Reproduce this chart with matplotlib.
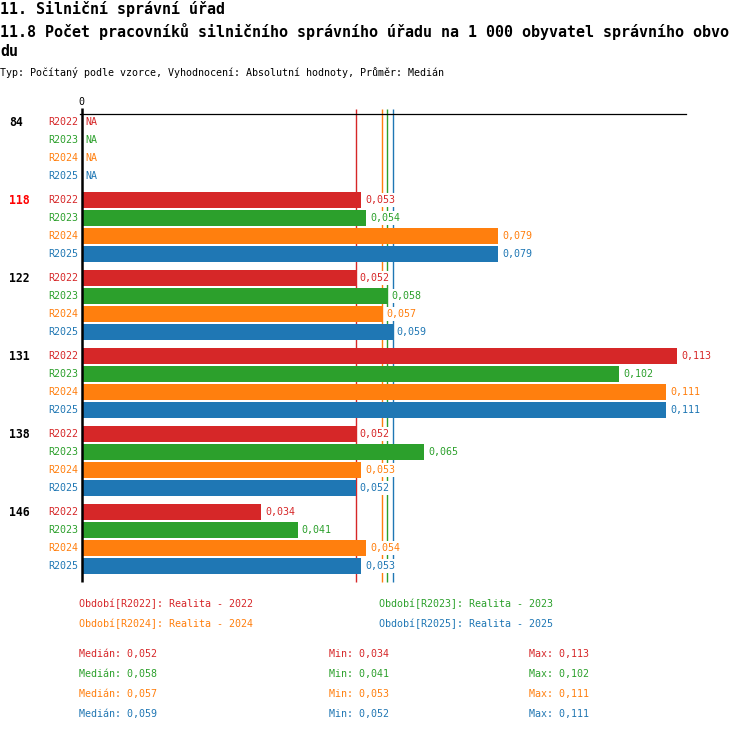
import numpy as np
import matplotlib
matplotlib.use('Agg')
import matplotlib.pyplot as plt

plt.rcParams['font.family'] = ['DejaVu Sans Mono']

groups = ['84', '118', '122', '131', '138', '146']
group_colors = ['black', '#ff0000', 'black', 'black', 'black', 'black']
series = ['R2022', 'R2023', 'R2024', 'R2025']
series_names = ['Realita - 2022', 'Realita - 2023', 'Realita - 2024', 'Realita - 2025']
colors = ['#d62728', '#2ca02c', '#ff7f0e', '#1f77b4']

r2022 = [np.nan, 0.053, 0.052, 0.113, 0.052, 0.034]
r2023 = [np.nan, 0.054, 0.058, 0.102, 0.065, 0.041]
r2024 = [np.nan, 0.079, 0.057, 0.111, 0.053, 0.054]
r2025 = [np.nan, 0.079, 0.059, 0.111, 0.052, 0.053]
values = [r2022, r2023, r2024, r2025]

W, H = 750, 732


def fmt(v):
    return ('%.3f' % v).replace('.', ',')


def px(x, y):
    return x / W, 1 - y / H


fig = plt.figure(figsize=(W / 100, H / 100), dpi=100)

# plot area in pixels
x0, x1, ytop, ybot = 82, 686, 114, 582
scale = 5265.0
ax = fig.add_axes([x0 / W, 1 - ybot / H, (x1 - x0) / W, (ybot - ytop) / H])
ax.set_xlim(0, (x1 - x0) / scale)
ax.set_ylim(ybot, ytop)
ax.axis('off')

# row positions (pixels)
row_y = lambda g, r: 122 + 78 * g + 18 * r
label_box = dict(facecolor='white', edgecolor='none', pad=1.2)

for s in range(4):
    ys = [row_y(g, s) for g in range(len(groups))]
    vals = np.array(values[s], dtype=float)
    ok = ~np.isnan(vals)
    ax.barh(np.array(ys)[ok], vals[ok], height=16, color=colors[s], linewidth=0, zorder=3)
    for g, v in enumerate(vals):
        if np.isnan(v):
            ax.annotate('NA', (0, ys[g]), xytext=(3, 0), textcoords='offset pixels',
                        ha='left', va='center', fontsize=7.2, color=colors[s], zorder=4)
        else:
            ax.annotate(fmt(v), (v, ys[g]), xytext=(4, 0), textcoords='offset pixels',
                        ha='left', va='center', fontsize=7.2, color=colors[s], zorder=4,
                        bbox=label_box)
        fig.text(*px(78, ys[g]), series[s], ha='right', va='center',
                 fontsize=7.2, color=colors[s])

for g, name in enumerate(groups):
    fig.text(*px(9, row_y(g, 0)), name, ha='left', va='center', fontsize=8.3,
             fontweight='bold', color=group_colors[g])

# axes lines
ax.axhline(ytop, color='black', lw=0.9, xmin=-0.003, clip_on=False, zorder=2)
ax.vlines(0, ybot, 108, color='black', lw=1.8, clip_on=False, zorder=5)
fig.text(*px(81, 102), '0', ha='center', va='center', fontsize=7.2)

# medians (behind the bars and labels)
medians = [np.nanmedian(v) for v in values]
mins = [np.nanmin(v) for v in values]
maxs = [np.nanmax(v) for v in values]
for s in range(4):
    ax.vlines(medians[s], ybot, 109, color=colors[s], lw=1.0, clip_on=False, zorder=1)

# titles
fig.text(*px(0, 9), '11. Silniční správní úřad', ha='left', va='center',
         fontsize=10.8, fontweight='bold')
fig.text(*px(0, 31), '11.8 Počet pracovníků silničního správního úřadu na 1 000 obyvatel správního obvo',
         ha='left', va='center', fontsize=10.8, fontweight='bold')
fig.text(*px(0, 52), 'du', ha='left', va='center', fontsize=10.8, fontweight='bold')
fig.text(*px(0, 73), 'Typ: Počítaný podle vzorce, Vyhodnocení: Absolutní hodnoty, Průměr: Medián',
         ha='left', va='center', fontsize=7.2)

# legend
leg_pos = [(79, 604), (379, 604), (79, 624), (379, 624)]
for s in range(4):
    fig.text(*px(*leg_pos[s]), 'Období[%s]: %s' % (series[s], series_names[s]),
             ha='left', va='center', fontsize=7.2, color=colors[s])

# stats
for s in range(4):
    y = 654 + 20 * s
    fig.text(*px(79, y), 'Medián: ' + fmt(medians[s]), ha='left', va='center',
             fontsize=7.2, color=colors[s])
    fig.text(*px(329, y), 'Min: ' + fmt(mins[s]), ha='left', va='center',
             fontsize=7.2, color=colors[s])
    fig.text(*px(529, y), 'Max: ' + fmt(maxs[s]), ha='left', va='center',
             fontsize=7.2, color=colors[s])

fig.savefig('out.png', dpi=100)
